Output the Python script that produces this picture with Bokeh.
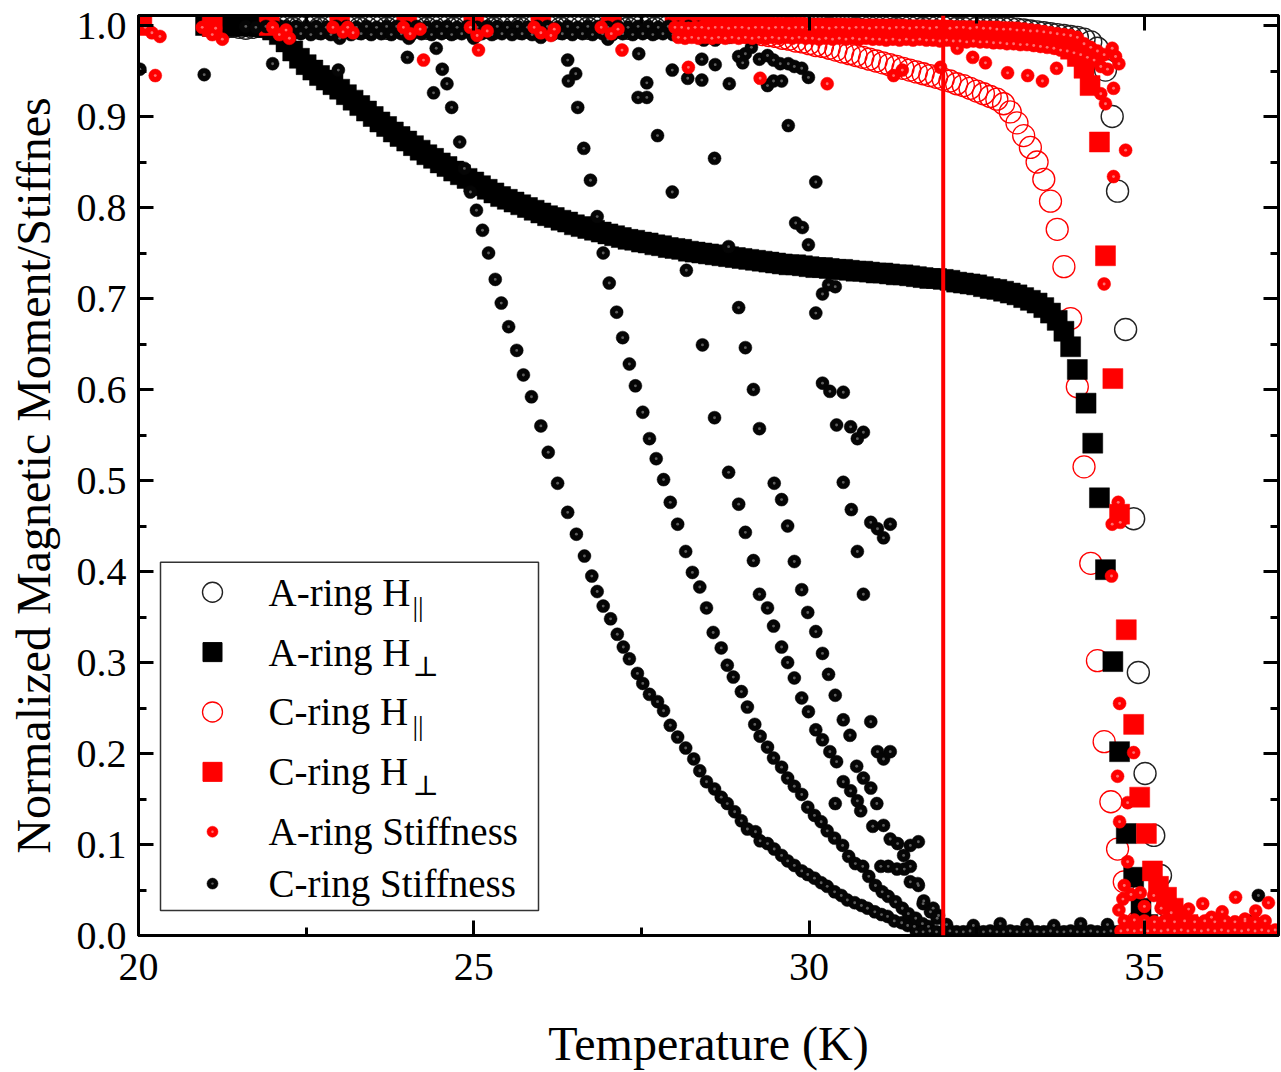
from bokeh.plotting import figure
from bokeh.models import (Range1d, LinearAxis, SingleIntervalTicker, PrintfTickFormatter,
                          CustomJSTickFormatter, Span, Label, BoxAnnotation)
from bokeh.embed import file_html
from bokeh.resources import INLINE

FONT = "Liberation Serif"

# ---------------------------------------------------------------- data
# A-ring, field parallel (open black circles)
A_PAR_T = [21.3, 21.4, 21.5, 21.6, 21.7, 21.8, 21.9,
           22.0, 22.1, 22.2, 22.3, 22.4, 22.5, 22.6, 22.7, 22.8, 22.9,
           23.0, 23.1, 23.2, 23.3, 23.4, 23.5, 23.6, 23.7, 23.8, 23.9,
           24.0, 24.1, 24.2, 24.3, 24.4, 24.5, 24.6, 24.7, 24.8, 24.9,
           25.0, 25.1, 25.2, 25.3, 25.4, 25.5, 25.6, 25.7, 25.8, 25.9,
           26.0, 26.1, 26.2, 26.3, 26.4, 26.5, 26.6, 26.7, 26.8, 26.9,
           27.0, 27.1, 27.2, 27.3, 27.4, 27.5, 27.6, 27.7, 27.8, 27.9,
           28.0, 28.1, 28.2, 28.3, 28.4, 28.5, 28.6, 28.7, 28.8, 28.9,
           29.0, 29.1, 29.2, 29.3, 29.4, 29.5, 29.6, 29.7, 29.8, 29.9,
           30.0, 30.1, 30.2, 30.3, 30.4, 30.5, 30.6, 30.7, 30.8, 30.9,
           31.0, 31.1, 31.2, 31.3, 31.4, 31.5, 31.6, 31.7, 31.8, 31.9,
           32.0, 32.1, 32.2, 32.3, 32.4, 32.5, 32.6, 32.7, 32.8, 32.9,
           33.0, 33.1, 33.2, 33.3, 33.4, 33.5, 33.6, 33.7, 33.8, 33.9,
           34.0, 34.1, 34.2, 34.3,
           34.42, 34.52, 34.60, 34.72, 34.84, 34.91, 35.01, 35.14, 35.24, 35.35, 35.46]
A_PAR_M = [0.998, 0.999, 0.998, 0.997, 0.998, 0.999, 0.998,
           0.998, 0.999, 0.998, 0.997, 0.998, 0.999, 0.998, 0.997, 0.998, 0.999,
           0.998, 0.999, 0.998, 0.997, 0.998, 0.999, 0.998, 0.997, 0.998, 0.999,
           0.998, 0.999, 0.998, 0.997, 0.998, 0.999, 0.998, 0.997, 0.998, 0.999,
           0.998, 0.999, 0.998, 0.997, 0.998, 0.999, 0.998, 0.997, 0.998, 0.999,
           0.998, 0.999, 0.998, 0.997, 0.998, 0.999, 0.998, 0.997, 0.998, 0.999,
           0.998, 0.999, 0.998, 0.997, 0.998, 0.999, 0.998, 0.997, 0.998, 0.999,
           0.998, 0.999, 0.998, 0.997, 0.998, 0.999, 0.998, 0.997, 0.998, 0.999,
           0.998, 0.999, 0.998, 0.997, 0.998, 0.999, 0.998, 0.997, 0.998, 0.999,
           0.998, 0.999, 0.998, 0.997, 0.998, 0.999, 0.998, 0.997, 0.998, 0.998,
           0.998, 0.998, 0.998, 0.997, 0.998, 0.998, 0.998, 0.997, 0.998, 0.998,
           0.998, 0.998, 0.997, 0.997, 0.998, 0.997, 0.997, 0.997, 0.997, 0.997,
           0.997, 0.996, 0.995, 0.994, 0.993, 0.992, 0.991, 0.990, 0.989, 0.988,
           0.987, 0.985, 0.982, 0.975,
           0.951, 0.900, 0.818, 0.666, 0.458, 0.289, 0.178, 0.110, 0.066, 0.032, 0.012]

# A-ring, field perpendicular (filled black squares)
A_PERP_T = [21.0, 21.1, 21.2, 21.3, 21.4, 21.5, 21.6, 21.7, 21.8, 21.9,
            22.0, 22.1, 22.2, 22.3, 22.4, 22.5, 22.6, 22.7, 22.8, 22.9,
            23.0, 23.1, 23.2, 23.3, 23.4, 23.5, 23.6, 23.7, 23.8, 23.9,
            24.0, 24.1, 24.2, 24.3, 24.4, 24.5, 24.6, 24.7, 24.8, 24.9,
            25.0, 25.1, 25.2, 25.3, 25.4, 25.5, 25.6, 25.7, 25.8, 25.9,
            26.0, 26.1, 26.2, 26.3, 26.4, 26.5, 26.6, 26.7, 26.8, 26.9,
            27.0, 27.1, 27.2, 27.3, 27.4, 27.5, 27.6, 27.7, 27.8, 27.9,
            28.0, 28.1, 28.2, 28.3, 28.4, 28.5, 28.6, 28.7, 28.8, 28.9,
            29.0, 29.1, 29.2, 29.3, 29.4, 29.5, 29.6, 29.7, 29.8, 29.9,
            30.0, 30.1, 30.2, 30.3, 30.4, 30.5, 30.6, 30.7, 30.8, 30.9,
            31.0, 31.1, 31.2, 31.3, 31.4, 31.5, 31.6, 31.7, 31.8, 31.9,
            32.0, 32.1, 32.2, 32.3, 32.4, 32.5, 32.6, 32.7, 32.8, 32.9,
            33.0, 33.1, 33.2, 33.3, 33.4, 33.5, 33.6, 33.7, 33.8, 33.9,
            34.0, 34.13, 34.23, 34.33, 34.42, 34.53, 34.63, 34.73, 34.84, 34.95, 35.05]
A_PERP_M = [1.000, 0.999, 1.000, 0.999, 1.000, 1.000, 0.999, 1.000, 0.999, 0.998,
            0.995, 0.990, 0.982, 0.972, 0.964, 0.957, 0.951, 0.945, 0.940, 0.935,
            0.930, 0.924, 0.918, 0.912, 0.906, 0.900, 0.894, 0.889, 0.883, 0.878,
            0.873, 0.868, 0.863, 0.858, 0.854, 0.849, 0.845, 0.840, 0.836, 0.832,
            0.828, 0.824, 0.820, 0.816, 0.812, 0.809, 0.806, 0.803, 0.800, 0.797,
            0.794, 0.791, 0.789, 0.786, 0.784, 0.781, 0.779, 0.777, 0.775, 0.773,
            0.771, 0.769, 0.767, 0.765, 0.764, 0.762, 0.761, 0.759, 0.758, 0.756,
            0.755, 0.754, 0.752, 0.751, 0.750, 0.749, 0.748, 0.747, 0.746, 0.745,
            0.744, 0.743, 0.742, 0.741, 0.740, 0.739, 0.738, 0.737, 0.737, 0.736,
            0.735, 0.734, 0.734, 0.733, 0.732, 0.732, 0.731, 0.730, 0.730, 0.729,
            0.728, 0.728, 0.727, 0.726, 0.726, 0.725, 0.724, 0.723, 0.722, 0.722,
            0.721, 0.720, 0.718, 0.717, 0.716, 0.715, 0.713, 0.711, 0.710, 0.708,
            0.706, 0.704, 0.701, 0.698, 0.695, 0.690, 0.684, 0.676, 0.664, 0.647,
            0.622, 0.585, 0.541, 0.481, 0.402, 0.301, 0.202, 0.112, 0.064, 0.030, 0.012]

# C-ring, field parallel (open red circles)
C_PAR_T = [28.0, 28.1, 28.2, 28.3, 28.4, 28.5, 28.6, 28.7, 28.8, 28.9,
           29.0, 29.1, 29.2, 29.3, 29.4, 29.5, 29.6, 29.7, 29.8, 29.9,
           30.0, 30.1, 30.2, 30.3, 30.4, 30.5, 30.6, 30.7, 30.8, 30.9,
           31.0, 31.1, 31.2, 31.3, 31.4, 31.5, 31.6, 31.7, 31.8, 31.9,
           32.0, 32.1, 32.2, 32.3, 32.4, 32.5, 32.6, 32.7, 32.8, 32.9,
           33.0, 33.1, 33.2, 33.3, 33.4, 33.5, 33.6, 33.7, 33.8, 33.9,
           34.0, 34.1, 34.2, 34.3, 34.4, 34.5, 34.6, 34.7, 34.8, 34.9, 35.0]
C_PAR_M = [0.998, 0.998, 0.997, 0.997, 0.997, 0.996, 0.996, 0.995, 0.995, 0.994,
           0.993, 0.992, 0.991, 0.990, 0.989, 0.988, 0.986, 0.985, 0.983, 0.982,
           0.980, 0.978, 0.977, 0.975, 0.973, 0.971, 0.969, 0.967, 0.965, 0.963,
           0.961, 0.959, 0.957, 0.955, 0.953, 0.951, 0.949, 0.947, 0.945, 0.943,
           0.941, 0.939, 0.936, 0.934, 0.931, 0.928, 0.925, 0.922, 0.919, 0.914,
           0.905, 0.893, 0.879, 0.866, 0.850, 0.831, 0.807, 0.776, 0.735, 0.678,
           0.603, 0.515, 0.409, 0.302, 0.213, 0.147, 0.095, 0.059, 0.032, 0.015, 0.007]

# C-ring, field perpendicular (filled red squares)
C_PERP_T = [20.05, 21.1, 21.95, 23.0, 24.0, 25.0, 26.0, 27.05,
            28.0, 28.1, 28.2, 28.3, 28.4, 28.5, 28.6, 28.7, 28.8, 28.9,
            29.0, 29.1, 29.2, 29.3, 29.4, 29.5, 29.6, 29.7, 29.8, 29.9,
            30.0, 30.1, 30.2, 30.3, 30.4, 30.5, 30.6, 30.7, 30.8, 30.9,
            31.0, 31.1, 31.2, 31.3, 31.4, 31.5, 31.6, 31.7, 31.8, 31.9,
            32.0, 32.1, 32.2, 32.3, 32.4, 32.5, 32.6, 32.7, 32.8, 32.9,
            33.0, 33.1, 33.2, 33.3, 33.4, 33.5, 33.6, 33.7, 33.8, 33.9,
            34.0, 34.1, 34.19, 34.33, 34.42, 34.53, 34.63, 34.73, 34.84, 34.93,
            35.03, 35.12, 35.21, 35.33, 35.43, 35.55, 35.65]
C_PERP_M = [1.000, 0.999, 1.000, 1.000, 0.999, 1.000, 1.000, 0.999,
            0.998, 0.998, 0.997, 0.998, 0.998, 0.997, 0.998, 0.998, 0.997, 0.998,
            0.998, 0.997, 0.998, 0.998, 0.997, 0.998, 0.997, 0.997, 0.998, 0.997,
            0.997, 0.997, 0.996, 0.997, 0.997, 0.996, 0.997, 0.996, 0.996, 0.996,
            0.996, 0.996, 0.995, 0.996, 0.995, 0.995, 0.995, 0.995, 0.995, 0.994,
            0.995, 0.994, 0.994, 0.994, 0.994, 0.994, 0.993, 0.994, 0.993, 0.993,
            0.993, 0.992, 0.991, 0.990, 0.989, 0.987, 0.985, 0.982, 0.979, 0.974,
            0.966, 0.953, 0.934, 0.872, 0.747, 0.612, 0.463, 0.336, 0.232, 0.152,
            0.112, 0.071, 0.054, 0.042, 0.030, 0.020, 0.012]

# A-ring superfluid stiffness (small red spheres), (T, stiffness)
A_STIFF = [
    (20.1, 0.998), (20.2, 0.992), (20.32, 0.988), (20.25, 0.945),
    (20.95, 0.998), (21.15, 0.997), (21.1, 0.990), (21.25, 0.985),
    (22.0, 0.998), (22.1, 0.990), (22.2, 0.995), (22.25, 0.986),
    (22.9, 0.998), (23.05, 0.993), (23.2, 0.992), (23.12, 0.998),
    (23.95, 0.998), (24.05, 0.991), (24.2, 0.996), (24.25, 0.962),
    (24.95, 0.998), (25.05, 0.989), (25.07, 0.973), (25.2, 0.994),
    (25.9, 0.998), (26.0, 0.992), (26.15, 0.989), (26.2, 0.996),
    (26.9, 0.998), (27.05, 0.991), (27.21, 0.973), (27.15, 0.996),
    (28.2, 0.954),
    (28.0, 0.998), (28.1, 0.998), (28.2, 0.997), (28.3, 0.998), (28.4, 0.998),
    (28.5, 0.997), (28.6, 0.998), (28.7, 0.998), (28.8, 0.997), (28.9, 0.998),
    (29.0, 0.998), (29.1, 0.997), (29.2, 0.998), (29.3, 0.998), (29.4, 0.997),
    (29.5, 0.998), (29.6, 0.998), (29.7, 0.997), (29.8, 0.998), (29.9, 0.998),
    (30.0, 0.997), (30.1, 0.998), (30.2, 0.998), (30.3, 0.997), (30.4, 0.998),
    (30.5, 0.998), (30.6, 0.997), (30.7, 0.998), (30.8, 0.998), (30.9, 0.997),
    (31.0, 0.998), (31.1, 0.998), (31.2, 0.997), (31.3, 0.998), (31.4, 0.998),
    (31.5, 0.997), (31.6, 0.998), (31.7, 0.998), (31.8, 0.997), (31.9, 0.998),
    (32.0, 0.998), (32.1, 0.997), (32.2, 0.998), (32.3, 0.998), (32.4, 0.997),
    (32.5, 0.998), (32.6, 0.997), (32.7, 0.997), (32.8, 0.996), (32.9, 0.996),
    (33.0, 0.996), (33.1, 0.995), (33.2, 0.995), (33.3, 0.994), (33.4, 0.994),
    (33.5, 0.993), (33.6, 0.992), (33.7, 0.991), (33.8, 0.990), (33.9, 0.989),
    (34.0, 0.987),
    (28.05, 0.987), (28.15, 0.986), (28.25, 0.987), (28.35, 0.986), (28.45, 0.987),
    (28.55, 0.986), (28.65, 0.987), (28.75, 0.986), (28.85, 0.987), (28.95, 0.986),
    (29.05, 0.987), (29.15, 0.986), (29.25, 0.987), (29.35, 0.986), (29.45, 0.987),
    (29.55, 0.986), (29.65, 0.987), (29.75, 0.986), (29.85, 0.987), (29.95, 0.986),
    (30.05, 0.986), (30.15, 0.985), (30.25, 0.986), (30.35, 0.985), (30.45, 0.986),
    (30.55, 0.985), (30.65, 0.986), (30.75, 0.985), (30.85, 0.986), (30.95, 0.985),
    (31.05, 0.985), (31.15, 0.984), (31.25, 0.985), (31.35, 0.984), (31.45, 0.985),
    (31.55, 0.984), (31.65, 0.985), (31.75, 0.984), (31.85, 0.984), (31.95, 0.983),
    (32.05, 0.984), (32.15, 0.983), (32.25, 0.983), (32.35, 0.982), (32.45, 0.983),
    (32.55, 0.982), (32.65, 0.982), (32.75, 0.981), (32.85, 0.981), (32.95, 0.980),
    (33.05, 0.980), (33.15, 0.979), (33.25, 0.979), (33.35, 0.978), (33.45, 0.977),
    (33.55, 0.976), (33.65, 0.975), (33.75, 0.973), (33.85, 0.972), (33.95, 0.970),
    (34.05, 0.968), (34.15, 0.965), (34.25, 0.962), (34.1, 0.980), (34.2, 0.976),
    (34.3, 0.972), (34.4, 0.968), (34.35, 0.955), (34.45, 0.952), (34.52, 0.975),
    (34.57, 0.966), (34.62, 0.958),
    (29.27, 0.942), (30.27, 0.936), (31.26, 0.945), (31.39, 0.951), (31.96, 0.954),
    (32.21, 0.975), (32.44, 0.965), (32.63, 0.959), (32.96, 0.948), (33.26, 0.945),
    (33.48, 0.939), (33.69, 0.953),
    (34.54, 0.931), (34.35, 0.925), (34.42, 0.914), (34.72, 0.863), (34.54, 0.834),
    (34.40, 0.716), (34.61, 0.476), (34.52, 0.452), (34.64, 0.454), (34.51, 0.395),
    (34.63, 0.255), (34.84, 0.201), (34.60, 0.175), (34.75, 0.146), (34.63, 0.125),
    (34.75, 0.081), (34.70, 0.055), (34.62, 0.028), (34.68, 0.040), (34.80, 0.045),
    (34.94, 0.047), (35.14, 0.044), (35.00, 0.032), (35.25, 0.030), (35.40, 0.025),
    (35.66, 0.029), (35.87, 0.035), (36.16, 0.026), (36.36, 0.042), (36.66, 0.027),
    (36.85, 0.036), (36.00, 0.020), (36.50, 0.018),
    (34.65, 0.005), (34.75, 0.006), (34.85, 0.005), (34.95, 0.006), (35.05, 0.005),
    (35.15, 0.006), (35.25, 0.005), (35.35, 0.006), (35.45, 0.005), (35.55, 0.006),
    (35.65, 0.005), (35.75, 0.006), (35.85, 0.005), (35.95, 0.006), (36.05, 0.005),
    (36.15, 0.006), (36.25, 0.005), (36.35, 0.006), (36.45, 0.005), (36.55, 0.006),
    (36.65, 0.005), (36.75, 0.006), (36.85, 0.005), (36.95, 0.006),
    (34.70, 0.016), (34.85, 0.017), (35.00, 0.016), (35.15, 0.015), (35.30, 0.016),
    (35.45, 0.015), (35.60, 0.016), (35.75, 0.015), (35.90, 0.016), (36.05, 0.015),
    (36.20, 0.016), (36.35, 0.015), (36.50, 0.016), (36.65, 0.015), (36.80, 0.016),
]

# C-ring superfluid stiffness (small black spheres), (T, stiffness)
C_STIFF = [
    (21.60, 0.999), (21.75, 0.998), (21.90, 0.999), (22.05, 0.998), (22.20, 0.999),
    (22.35, 0.999), (22.50, 0.998), (22.65, 0.999), (22.80, 0.998), (22.95, 0.999),
    (23.10, 0.999), (23.25, 0.998), (23.40, 0.999), (23.55, 0.998), (23.70, 0.999),
    (23.85, 0.999), (24.00, 0.998), (24.15, 0.999), (24.30, 0.998), (24.45, 0.999),
    (24.60, 0.999), (24.75, 0.998), (24.90, 0.999), (25.05, 0.998), (25.20, 0.999),
    (25.35, 0.999), (25.50, 0.998), (25.65, 0.999), (25.80, 0.998), (25.95, 0.999),
    (26.10, 0.999), (26.25, 0.998), (26.40, 0.999), (26.55, 0.998), (26.70, 0.999),
    (26.85, 0.999), (27.00, 0.998), (27.15, 0.999), (27.30, 0.998), (27.45, 0.999),
    (27.60, 0.999), (27.75, 0.998), (27.90, 0.999), (28.05, 0.998), (28.20, 0.999),
    (28.35, 0.998),
    (22.42, 0.991), (22.57, 0.990), (22.72, 0.991), (22.87, 0.990), (23.02, 0.991),
    (23.17, 0.990), (23.32, 0.991), (23.47, 0.990), (23.62, 0.991), (23.77, 0.990),
    (23.92, 0.991), (24.07, 0.990), (24.22, 0.991), (24.37, 0.990), (24.52, 0.991),
    (24.67, 0.990), (24.82, 0.991), (24.97, 0.990), (25.12, 0.991), (25.27, 0.990),
    (25.42, 0.991), (25.57, 0.990), (25.72, 0.991), (25.87, 0.990), (26.02, 0.991),
    (26.17, 0.990), (26.32, 0.991), (26.47, 0.990), (26.62, 0.991), (26.77, 0.990),
    (26.92, 0.991), (27.07, 0.990), (27.22, 0.991), (27.37, 0.990), (27.52, 0.991),
    (27.67, 0.990), (27.82, 0.991), (27.97, 0.990), (28.12, 0.991), (28.27, 0.990),
    (20.02, 0.952), (20.98, 0.946), (22.00, 0.958), (22.98, 0.951), (23.00, 0.986),
    (24.01, 0.965), (24.03, 0.986), (24.44, 0.975), (24.53, 0.952), (24.60, 0.936),
    (24.40, 0.926), (24.67, 0.910), (25.00, 0.986), (26.00, 0.987), (27.00, 0.985),
    (26.40, 0.962), (26.52, 0.947), (26.41, 0.939), (27.46, 0.969), (27.58, 0.937),
    (27.45, 0.921), (27.58, 0.921), (27.96, 0.951), (28.19, 0.942), (28.40, 0.963),
    (28.43, 0.984), (28.60, 0.957), (28.40, 0.940), (28.81, 0.936), (28.81, 0.987),
    (28.60, 0.984), (28.95, 0.966), (29.05, 0.969), (29.14, 0.976), (29.01, 0.959),
    (29.26, 0.963), (29.38, 0.967), (29.47, 0.962), (29.57, 0.958), (29.69, 0.958),
    (29.78, 0.955), (29.89, 0.953), (29.99, 0.943), (29.38, 0.934), (29.47, 0.939),
    (29.59, 0.939),
    (27.74, 0.879), (27.96, 0.817), (28.17, 0.731), (28.41, 0.649), (28.59, 0.854),
    (29.69, 0.890), (30.10, 0.828), (29.80, 0.783), (29.90, 0.778), (29.99, 0.759),
    (28.80, 0.757), (30.29, 0.715), (30.39, 0.713), (30.20, 0.705), (30.10, 0.684),
    (28.95, 0.690), (29.05, 0.646), (29.17, 0.600), (28.59, 0.569), (29.26, 0.557),
    (28.80, 0.509), (30.20, 0.607), (30.31, 0.598), (30.51, 0.597), (30.41, 0.561),
    (30.62, 0.559), (30.81, 0.553), (30.72, 0.546), (30.51, 0.498), (30.63, 0.468),
    (30.92, 0.454), (31.02, 0.447), (31.21, 0.452), (31.11, 0.437), (30.72, 0.422),
    (30.81, 0.375), (28.95, 0.474), (29.05, 0.443), (29.17, 0.412), (29.26, 0.375),
    (29.38, 0.360), (29.47, 0.340), (29.59, 0.317), (29.68, 0.300), (29.78, 0.283),
    (29.89, 0.261), (29.99, 0.246), (30.10, 0.226), (30.20, 0.215), (30.31, 0.202),
    (30.41, 0.191), (30.51, 0.169), (30.62, 0.159), (30.72, 0.148), (30.77, 0.137),
    (30.92, 0.235), (31.02, 0.202), (31.11, 0.194), (31.21, 0.202), (30.39, 0.145),
    (30.95, 0.120), (31.51, 0.099), (31.63, 0.103), (31.07, 0.076), (31.18, 0.076),
    (31.31, 0.073), (31.42, 0.073), (31.51, 0.059), (31.63, 0.055), (31.93, 0.022),
    (31.70, 0.035), (31.85, 0.030),
    (29.48, 0.497), (29.59, 0.479), (29.68, 0.450), (29.78, 0.411), (29.89, 0.380),
    (29.98, 0.355), (30.10, 0.334), (30.20, 0.310), (30.29, 0.287), (30.39, 0.264),
    (30.51, 0.237), (30.61, 0.220), (30.71, 0.186), (30.81, 0.173), (30.92, 0.162),
    (31.01, 0.145), (31.11, 0.121), (31.21, 0.106), (31.32, 0.101), (31.41, 0.088),
    (31.51, 0.076), (31.62, 0.057), (31.71, 0.038), (31.81, 0.026), (31.91, 0.019),
    (24.79, 0.872), (24.86, 0.843), (24.95, 0.817), (25.04, 0.797), (25.13, 0.775),
    (25.22, 0.750), (25.32, 0.721), (25.41, 0.695), (25.52, 0.669), (25.64, 0.643),
    (25.74, 0.616), (25.86, 0.592), (26.00, 0.560), (26.11, 0.531), (26.25, 0.497),
    (26.40, 0.465), (26.53, 0.441), (26.65, 0.417), (26.76, 0.395), (26.84, 0.378),
    (26.93, 0.362), (27.04, 0.348), (27.14, 0.331), (27.23, 0.317), (27.32, 0.304),
    (27.44, 0.288), (27.52, 0.277), (27.62, 0.265), (27.74, 0.257), (27.83, 0.247),
    (27.93, 0.231), (28.04, 0.218), (28.16, 0.206), (28.28, 0.194), (28.37, 0.181),
    (28.47, 0.169), (28.59, 0.161), (28.69, 0.152), (28.78, 0.145), (28.89, 0.136),
    (28.99, 0.126), (29.08, 0.117), (29.20, 0.114), (29.27, 0.104), (29.38, 0.101),
    (29.48, 0.095), (29.59, 0.088), (29.68, 0.082), (29.78, 0.077), (29.89, 0.071),
    (29.98, 0.067), (30.08, 0.063), (30.18, 0.058), (30.27, 0.054), (30.38, 0.048),
    (30.48, 0.044), (30.57, 0.039), (30.68, 0.036), (30.78, 0.033), (30.87, 0.030),
    (30.98, 0.026), (31.08, 0.023), (31.17, 0.021), (31.27, 0.016), (31.38, 0.014),
    (31.47, 0.011), (31.57, 0.010),
    (26.55, 0.910), (26.64, 0.865), (26.74, 0.830), (26.84, 0.790), (26.93, 0.750),
    (27.02, 0.717), (27.13, 0.685), (27.22, 0.657), (27.32, 0.628), (27.41, 0.604),
    (27.52, 0.575), (27.62, 0.546), (27.72, 0.524), (27.83, 0.501), (27.93, 0.476),
    (28.04, 0.452), (28.16, 0.422), (28.26, 0.399), (28.37, 0.383), (28.47, 0.360),
    (28.57, 0.333), (28.69, 0.316), (28.78, 0.297), (28.87, 0.284), (28.99, 0.268),
    (29.08, 0.251), (29.19, 0.232), (29.27, 0.219), (29.38, 0.207), (29.47, 0.195),
    (29.59, 0.185), (29.68, 0.173), (29.78, 0.164), (29.89, 0.155), (29.98, 0.141),
    (30.08, 0.132), (30.18, 0.125), (30.27, 0.115), (30.38, 0.107), (30.50, 0.099),
    (30.59, 0.087), (30.69, 0.079), (30.80, 0.076), (30.89, 0.065), (30.99, 0.055),
    (31.09, 0.048), (31.18, 0.043), (31.29, 0.037), (31.39, 0.030), (31.48, 0.024),
    (31.59, 0.019), (31.69, 0.013), (31.78, 0.010),
    (31.60, 0.004), (31.70, 0.004), (31.80, 0.005), (31.90, 0.004), (32.00, 0.004),
    (32.10, 0.005), (32.20, 0.004), (32.30, 0.004), (32.40, 0.005), (32.50, 0.004),
    (32.60, 0.004), (32.70, 0.005), (32.80, 0.004), (32.90, 0.004), (33.00, 0.005),
    (33.10, 0.004), (33.20, 0.004), (33.30, 0.005), (33.40, 0.004), (33.50, 0.004),
    (33.60, 0.005), (33.70, 0.004), (33.80, 0.004), (33.90, 0.005), (34.00, 0.004),
    (34.10, 0.004), (34.20, 0.005), (34.30, 0.004), (34.40, 0.004), (34.50, 0.005),
    (34.60, 0.004), (34.70, 0.004), (34.80, 0.005), (34.90, 0.004), (35.00, 0.004),
    (32.05, 0.012), (32.45, 0.011), (32.85, 0.013), (33.25, 0.012), (33.65, 0.011),
    (34.05, 0.013), (34.45, 0.012), (36.55, 0.016), (36.70, 0.044),
]

# temperature marked by the vertical red line
T_MARK = 32.0

LEGEND_ENTRIES = ["A-ring H", "A-ring H", "C-ring H", "C-ring H",
                  "A-ring Stiffness", "C-ring Stiffness"]
LEGEND_SUBS = ["||", "\u22a5", "||", "\u22a5", "", ""]

# ---------------------------------------------------------------- figure
X0, X1 = 20.0, 37.0
Y0, Y1 = 0.0, 1.011
F_LEFT, F_TOP, F_W, F_H = 138, 15, 1140, 922


def to_data(px, py):
    """Convert a page pixel position into data coordinates of the frame."""
    return (X0 + (px - F_LEFT) / F_W * (X1 - X0),
            Y1 - (py - F_TOP) / F_H * (Y1 - Y0))


p = figure(width=1281, height=1072, x_range=Range1d(X0, X1), y_range=Range1d(Y0, Y1),
           output_backend="svg", toolbar_location=None,
           min_border_left=F_LEFT, min_border_top=F_TOP, min_border_right=3,
           min_border_bottom=1072 - F_TOP - F_H,
           x_axis_label="Temperature (K)",
           y_axis_label="Normalized Magnetic Moment/Stiffnes")
p.grid.visible = False
p.background_fill_color = "white"
p.border_fill_color = "white"
p.outline_line_color = "black"
p.outline_line_width = 3
p.outline_line_alpha = 1


def style_axis(ax, ticker, formatter):
    ax.ticker = ticker
    ax.formatter = formatter
    ax.axis_line_width = 3
    ax.axis_line_color = "black"
    ax.major_tick_in = 15
    ax.major_tick_out = 0
    ax.minor_tick_in = 8
    ax.minor_tick_out = 0
    ax.major_tick_line_width = 3
    ax.minor_tick_line_width = 3
    ax.major_tick_line_color = "black"
    ax.minor_tick_line_color = "black"
    ax.major_label_text_font = FONT
    ax.major_label_text_font_size = "40px"
    ax.major_label_text_color = "black"
    ax.axis_label_text_font = FONT
    ax.axis_label_text_font_size = "48px"
    ax.axis_label_text_font_style = "normal"
    ax.axis_label_text_color = "black"


style_axis(p.xaxis[0], SingleIntervalTicker(interval=5, num_minor_ticks=2),
           PrintfTickFormatter(format="%d"))
style_axis(p.yaxis[0], SingleIntervalTicker(interval=0.1, num_minor_ticks=2),
           PrintfTickFormatter(format="%.1f"))
p.xaxis[0].major_label_standoff = 18
p.xaxis[0].axis_label_standoff = 34
p.yaxis[0].major_label_standoff = 12
p.yaxis[0].axis_label_standoff = 14

blank = CustomJSTickFormatter(code="return ''")
top_ax = LinearAxis()
style_axis(top_ax, SingleIntervalTicker(interval=5, num_minor_ticks=2), blank)
top_ax.major_label_standoff = 0
p.add_layout(top_ax, "above")
right_ax = LinearAxis()
style_axis(right_ax, SingleIntervalTicker(interval=0.1, num_minor_ticks=2), blank)
right_ax.major_label_standoff = 0
p.add_layout(right_ax, "right")

# ---------------------------------------------------------------- marks
SPHERE = 13
BIG = 22


def spheres(xs, ys, base, shine, size=SPHERE):
    p.scatter(xs, ys, marker="circle", size=size, fill_color=base, line_color=base,
              line_width=0.5)
    p.scatter(xs, ys, marker="circle", size=size * 0.22, fill_color=shine,
              line_color=None)


p.scatter(A_PAR_T, A_PAR_M, marker="circle", size=BIG, fill_color=None,
          line_color="#222222", line_width=1.4)
p.scatter(C_PAR_T, C_PAR_M, marker="circle", size=BIG, fill_color=None,
          line_color="#ff0000", line_width=1.3)
p.scatter(A_PERP_T, A_PERP_M, marker="square", size=20, fill_color="black",
          line_color="black", line_width=0.5)
p.scatter(C_PERP_T, C_PERP_M, marker="square", size=20, fill_color="#ff0000",
          line_color="#ff0000", line_width=0.5)
spheres([t for t, s in C_STIFF], [s for t, s in C_STIFF], "#050505", "#5e5e5e")
spheres([t for t, s in A_STIFF], [s for t, s in A_STIFF], "#ff0000", "#ff7070")

p.add_layout(Span(location=T_MARK, dimension="height", line_color="#ff0000",
                  line_width=4))

# ---------------------------------------------------------------- legend
BOX_L, BOX_R, BOX_T, BOX_B = 160, 538, 563, 912
ROW_Y = [593, 653, 713, 773, 833, 885]
MARK_X, TEXT_X = 212, 268
LEG_FS = 39

bl, bb = to_data(BOX_L, BOX_B)
br, bt = to_data(BOX_R, BOX_T)
p.add_layout(BoxAnnotation(left=bl, right=br, bottom=bb, top=bt, fill_alpha=0,
                           line_color="#333333", line_width=1.5, line_alpha=1))

leg_pts = [to_data(MARK_X, ry) for ry in ROW_Y]
lx = [pt[0] for pt in leg_pts]
ly = [pt[1] for pt in leg_pts]
p.scatter(lx[0:1], ly[0:1], marker="circle", size=20, fill_color=None,
          line_color="#222222", line_width=1.4)
p.scatter(lx[1:2], ly[1:2], marker="square", size=19, fill_color="black",
          line_color="black")
p.scatter(lx[2:3], ly[2:3], marker="circle", size=20, fill_color=None,
          line_color="#ff0000", line_width=1.3)
p.scatter(lx[3:4], ly[3:4], marker="square", size=19, fill_color="#ff0000",
          line_color="#ff0000")
spheres(lx[4:5], ly[4:5], "#ff0000", "#ff7070", size=11)
spheres(lx[5:6], ly[5:6], "#050505", "#5e5e5e", size=11)

for entry, sub, ry in zip(LEGEND_ENTRIES, LEGEND_SUBS, ROW_Y):
    tx, ty = to_data(TEXT_X, ry)
    p.add_layout(Label(x=tx, y=ty, text=entry, text_font=FONT,
                       text_font_size=f"{LEG_FS}px", text_baseline="middle",
                       text_align="left", text_color="black"))
    if sub:
        sx, sy = to_data(TEXT_X + 3.64 * LEG_FS + 2, ry + 14)
        p.add_layout(Label(x=sx, y=sy, text=sub,
                           text_font=FONT if sub == "||" else "DejaVu Serif",
                           text_font_size="28px", text_baseline="middle",
                           text_align="left", text_color="black"))

open("out.html", "w").write(file_html(p, INLINE))
